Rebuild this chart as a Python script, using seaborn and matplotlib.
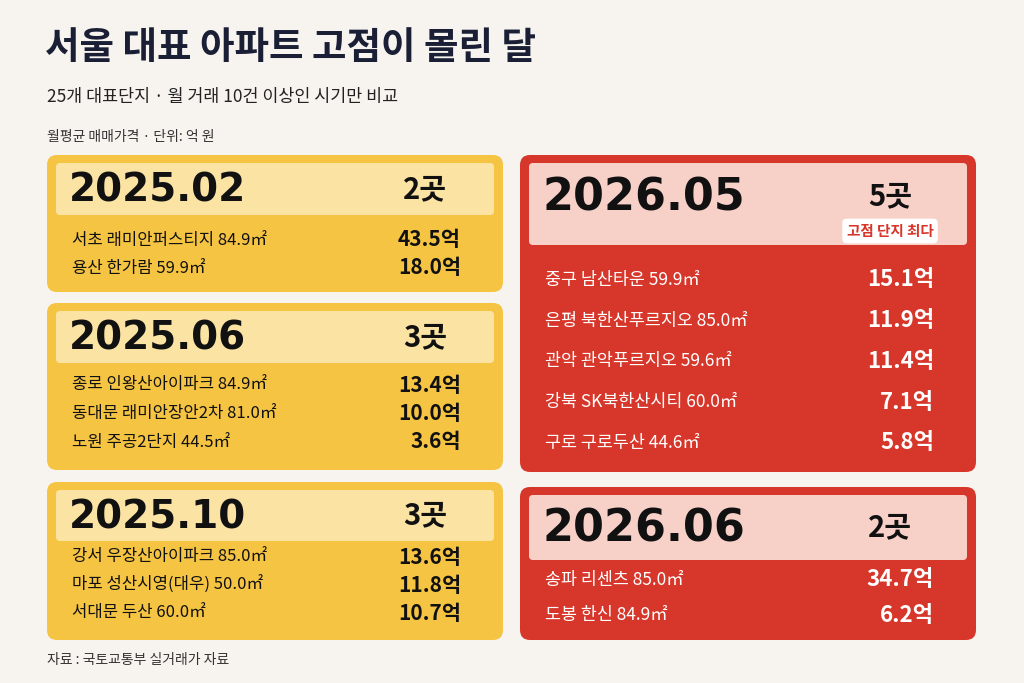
import matplotlib
matplotlib.use("Agg")
import matplotlib.pyplot as plt
import seaborn as sns
from matplotlib.patches import FancyBboxPatch

sns.set_theme(style="white")
plt.rcParams['font.family'] = ['Noto Sans CJK KR', 'DejaVu Sans']

# data
months = ["2025.02", "2025.06", "2025.10", "2026.05", "2026.06"]
counts = ["2곳", "3곳", "3곳", "5곳", "2곳"]
complexes = [
    ["서초 래미안퍼스티지 84.9㎡", "용산 한가람 59.9㎡"],
    ["종로 인왕산아이파크 84.9㎡", "동대문 래미안장안2차 81.0㎡", "노원 주공2단지 44.5㎡"],
    ["강서 우장산아이파크 85.0㎡", "마포 성산시영(대우) 50.0㎡", "서대문 두산 60.0㎡"],
    ["중구 남산타운 59.9㎡", "은평 북한산푸르지오 85.0㎡", "관악 관악푸르지오 59.6㎡",
     "강북 SK북한산시티 60.0㎡", "구로 구로두산 44.6㎡"],
    ["송파 리센츠 85.0㎡", "도봉 한신 84.9㎡"],
]
prices = [
    [43.5, 18.0],
    [13.4, 10.0, 3.6],
    [13.6, 11.8, 10.7],
    [15.1, 11.9, 11.4, 7.1, 5.8],
    [34.7, 6.2],
]

BG = "#f7f4ef"
YEL = "#f5c443"
YEL_H = "#fbe3a3"
RED = "#d7372b"
RED_H = "#f7d0c8"

fig = plt.figure(figsize=(10.24, 6.83), dpi=100, facecolor=BG)
ax = fig.add_axes([0, 0, 1, 1])
ax.set_xlim(0, 1024)
ax.set_ylim(683, 0)
ax.axis("off")
ax.set_facecolor(BG)

ax.text(45, 48, "서울 대표 아파트 고점이 몰린 달", fontsize=27, fontweight="heavy",
        color="#1a1f36", va="center")
ax.text(47, 97, "25개 대표단지 · 월 거래 10건 이상인 시기만 비교", fontsize=12.5,
        color="#222", va="center")
ax.text(47, 137, "월평균 매매가격 · 단위: 억 원", fontsize=10, color="#333", va="center")
ax.text(47, 660, "자료 : 국토교통부 실거래가 자료", fontsize=10, color="#333", va="center")

# layout: (x0, x1, y0, y1, header_y1, first_row, row_gap, red)
layout = [
    (47, 503, 155, 292, 215, 240, 28, False),
    (47, 503, 303, 470, 363, 385, 28.5, False),
    (47, 503, 482, 640, 541, 557, 28, False),
    (520, 976, 155, 472, 245, 280, 40.7, True),
    (520, 976, 487, 640, 560, 580, 35, True),
]

for i, (x0, x1, y0, y1, hy, r0, gap, red) in enumerate(layout):
    face = RED if red else YEL
    head = RED_H if red else YEL_H
    ax.add_patch(FancyBboxPatch((x0, y0), x1 - x0, y1 - y0,
                                boxstyle="round,pad=0,rounding_size=10",
                                fc=face, ec="none"))
    hh = hy - y0 - 8
    ax.add_patch(FancyBboxPatch((x0 + 9, y0 + 8), x1 - x0 - 18, hh,
                                boxstyle="round,pad=0,rounding_size=4",
                                fc=head, ec="none"))
    hc = y0 + 8 + hh / 2
    if i == 3:
        hc -= 8
    ax.text(x0 + 22, hc + 2, months[i], fontsize=32 if red else 28, fontweight="heavy",
            color="#111", va="center", family=["DejaVu Sans"])
    ax.text(x1 - 78 if not red else x1 - 86, hc, counts[i], fontsize=21, fontweight="heavy",
            color="#111", va="center", ha="center")
    if i == 3:
        ax.text(x1 - 86, 231, "고점 단지 최다", fontsize=10.5, fontweight="bold", color=RED,
                ha="center", va="center",
                bbox=dict(boxstyle="round,pad=0.3,rounding_size=0.3", fc="white", ec="none"))
    tc = "white" if red else "#111"
    for j, (name, p) in enumerate(zip(complexes[i], prices[i])):
        y = r0 + j * gap
        ax.text(x0 + 25, y, name, fontsize=12.5 if red else 12, color=tc, va="center")
        ax.text(x1 - 42, y, f"{p:.1f}억", fontsize=16 if red else 15, fontweight="heavy",
                color=tc, va="center", ha="right")

fig.savefig("out.png", dpi=100, facecolor=BG)
